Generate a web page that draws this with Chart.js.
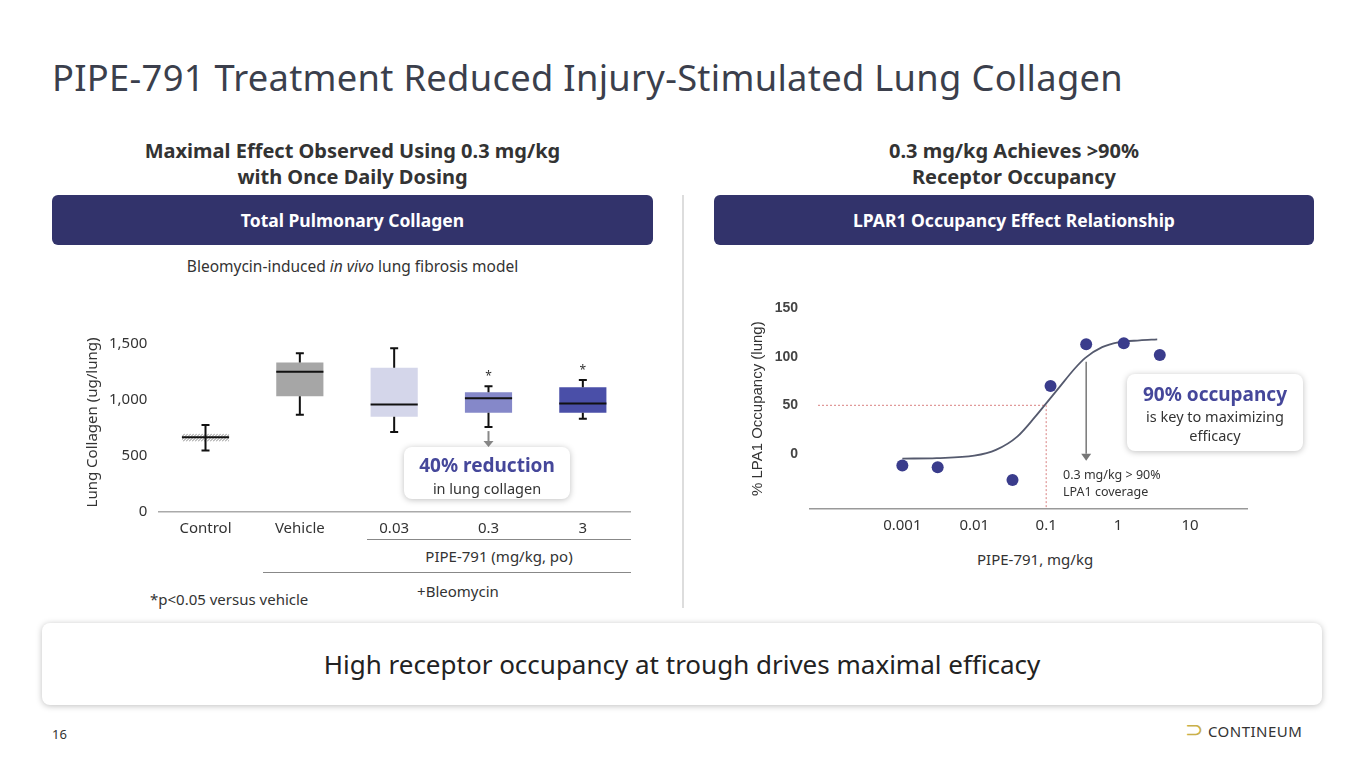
<!DOCTYPE html>
<html><head><meta charset="utf-8">
<script src="https://cdn.jsdelivr.net/npm/chart.js@4/dist/chart.umd.min.js"></script>
<style>
body{margin:0;width:1365px;height:768px;background:#fff;font-family:"Noto Sans",sans-serif;color:#333;position:relative;overflow:hidden}
.abs{position:absolute}
h1{position:absolute;left:52px;top:52px;margin:0;font-weight:400;font-size:36.3px;color:#3b3f4c;letter-spacing:0.3px}
.sub{font-weight:700;font-size:20px;text-align:center;color:#333;line-height:26px}
.bar{background:#32336b;color:#fff;font-weight:700;font-size:17.5px;border-radius:6px;text-align:center;line-height:50px;height:50px}
.call{background:#fff;border-radius:8px;box-shadow:0 1px 6px rgba(0,0,0,.25);text-align:center}
</style></head><body>
<h1>PIPE-791 Treatment Reduced Injury-Stimulated Lung Collagen</h1>
<div class="abs sub" style="left:52px;width:601px;top:138px">Maximal Effect Observed Using 0.3 mg/kg<br>with Once Daily Dosing</div>
<div class="abs sub" style="left:714px;width:600px;top:138px">0.3 mg/kg Achieves &gt;90%<br>Receptor Occupancy</div>
<div class="abs bar" style="left:52px;width:601px;top:195px">Total Pulmonary Collagen</div>
<div class="abs bar" style="left:714px;width:600px;top:195px">LPAR1 Occupancy Effect Relationship</div>
<div class="abs" style="left:682px;top:195px;width:2px;height:413px;background:#ddd"></div>
<div class="abs" style="left:52px;width:601px;top:255px;text-align:center;font-size:15.5px">Bleomycin-induced <i>in vivo</i> lung fibrosis model</div>

<div class="abs" style="left:80px;top:321px;width:560px;height:217px"><canvas id="c1"></canvas></div>
<div class="abs" style="left:745px;top:296px;width:512px;height:239px"><canvas id="c2"></canvas></div>

<div class="abs" style="left:367px;top:539px;width:264px;height:1px;background:#888"></div>
<div class="abs" style="left:367px;top:546px;width:264px;text-align:center;font-size:15px">PIPE-791 (mg/kg, po)</div>
<div class="abs" style="left:263px;top:572px;width:368px;height:1px;background:#888"></div>
<div class="abs" style="left:263px;top:581px;width:390px;text-align:center;font-size:15px">+Bleomycin</div>
<div class="abs" style="left:150px;top:589px;font-size:15px">*p&lt;0.05 versus vehicle</div>

<div class="abs call" style="left:404px;top:447px;width:166px;height:52px">
<div style="color:#45479a;font-weight:700;font-size:19px;margin-top:5px">40% reduction</div>
<div style="font-size:14.5px">in lung collagen</div></div>
<div class="abs call" style="left:1127px;top:374px;width:176px;height:77px">
<div style="color:#45479a;font-weight:700;font-size:19px;margin-top:7px">90% occupancy</div>
<div style="font-size:14.5px;line-height:19px">is key to maximizing<br>efficacy</div></div>
<div class="abs" style="left:1063px;top:466px;font-size:12.5px;line-height:17px">0.3 mg/kg &gt; 90%<br>LPA1 coverage</div>
<div class="abs" style="left:977px;top:549px;font-size:15px">PIPE-791, mg/kg</div>

<div class="abs call" style="left:42px;top:623px;width:1280px;height:82px;line-height:82px;font-size:26px;color:#222">High receptor occupancy at trough drives maximal efficacy</div>
<div class="abs" style="left:52px;top:725px;font-size:13px">16</div>
<div class="abs" style="left:1185px;top:713px;font-size:15px;color:#333;letter-spacing:0.5px"><span style="color:#c9b04a;font-size:22px">&#x2283;</span> CONTINEUM</div>

<script>
// ---- left chart data ----
const groups = ['Control', 'Vehicle', '0.03', '0.3', '3']
const boxLow = [630, 1034, 851, 887, 887]
const boxHigh = [700, 1336, 1290, 1070, 1116]
const medians = [668, 1253, 961, 1016, 970]
const whiskLow = [549, 869, 714, 759, 833]
const whiskHigh = [778, 1418, 1464, 1125, 1180]
const boxColors = ['#bdbdbd', '#a6a6a6', '#d4d6ea', '#8588c9', '#4a4fa8']
const starred = [false, false, false, true, true]
const collagenTicks = [0, 500, 1000, 1500]

// ---- right chart data ----
const doseX = [0.001, 0.0031, 0.034, 0.115, 0.36, 1.2, 3.8]
const occupancyY = [-12, -14, -27, 70, 113, 114, 102]
const fitX = [0.001, 0.003, 0.01, 0.02, 0.04, 0.07, 0.1, 0.15, 0.25, 0.35, 0.6, 1, 2, 3.5]
const fitY = [-5, -4.5, -2, 4, 18, 38, 52, 68, 88, 99, 110, 115, 117, 118]
const doseTicks = [0.001, 0.01, 0.1, 1, 10]
const occTicks = [0, 50, 100, 150]

const boxPlugin = {
  id: 'boxes',
  afterDatasetsDraw(chart) {
    const ctx = chart.ctx, y = chart.scales.y
    const meta = chart.getDatasetMeta(0)
    ctx.save()
    groups.forEach((g, i) => {
      const bar = meta.data[i]
      const cx = bar.x, hw = bar.width / 2
      if (i === 0) { // hatched box
        const t = y.getPixelForValue(boxHigh[i]), b = y.getPixelForValue(boxLow[i])
        ctx.save(); ctx.beginPath(); ctx.rect(cx - hw, t, hw * 2, b - t); ctx.clip()
        ctx.strokeStyle = '#888'; ctx.lineWidth = 1
        for (let k = -20; k < hw * 2 + 20; k += 3) { ctx.beginPath(); ctx.moveTo(cx - hw + k, b); ctx.lineTo(cx - hw + k + 8, t); ctx.stroke() }
        ctx.restore()
      }
      ctx.strokeStyle = '#111'; ctx.lineWidth = 2
      const yl = y.getPixelForValue(whiskLow[i]), yh = y.getPixelForValue(whiskHigh[i])
      const yq1 = y.getPixelForValue(boxLow[i]), yq3 = y.getPixelForValue(boxHigh[i])
      ctx.beginPath()
      ctx.moveTo(cx, yh); ctx.lineTo(cx, i === 0 ? yl : yq3)
      if (i !== 0) { ctx.moveTo(cx, yq1); ctx.lineTo(cx, yl) }
      ctx.moveTo(cx - 4, yh); ctx.lineTo(cx + 4, yh)
      ctx.moveTo(cx - 4, yl); ctx.lineTo(cx + 4, yl)
      const ym = y.getPixelForValue(medians[i])
      ctx.moveTo(cx - hw, ym); ctx.lineTo(cx + hw, ym)
      ctx.stroke()
      if (starred[i]) {
        ctx.fillStyle = '#333'; ctx.font = '12px "Noto Sans"'; ctx.textAlign = 'center'
        ctx.fillText('*', cx, yh - 6)
      }
      if (i === 3) { // arrow to callout
        ctx.strokeStyle = '#888'; ctx.fillStyle = '#888'; ctx.lineWidth = 2
        ctx.beginPath(); ctx.moveTo(cx, yl + 4); ctx.lineTo(cx, yl + 14); ctx.stroke()
        ctx.beginPath(); ctx.moveTo(cx - 5, yl + 14); ctx.lineTo(cx + 5, yl + 14); ctx.lineTo(cx, yl + 20); ctx.fill()
      }
    })
    ctx.restore()
  }
}

new Chart(document.getElementById('c1'), {
  type: 'bar',
  data: {
    labels: groups,
    datasets: [{
      data: groups.map((g, i) => [boxLow[i], boxHigh[i]]),
      backgroundColor: boxColors.map((c, i) => i === 0 ? 'rgba(0,0,0,0)' : c),
      barPercentage: 0.5, categoryPercentage: 1
    }]
  },
  options: {
    responsive: true, maintainAspectRatio: false, animation: false,
    layout: { padding: { left: 0, right: 10, top: 10 } },
    plugins: { legend: { display: false }, tooltip: { enabled: false } },
    scales: {
      x: { grid: { display: false }, border: { color: '#aaa', width: 1.5 },
           ticks: { color: '#333', font: { size: 15, family: 'Noto Sans' }, padding: 0 } },
      y: { min: 0, max: 1600, afterBuildTicks: s => { s.ticks = collagenTicks.map(v => ({ value: v })) },
           grid: { display: false }, border: { display: false },
           title: { display: true, text: 'Lung Collagen (ug/lung)', color: '#333', font: { size: 15, family: 'Noto Sans' } },
           ticks: { color: '#333', font: { size: 15, family: 'Noto Sans' }, callback: v => v.toLocaleString('en-US') } }
    }
  },
  plugins: [boxPlugin]
})

const refPlugin = {
  id: 'refs',
  beforeDatasetsDraw(chart) {
    const ctx = chart.ctx, x = chart.scales.x, y = chart.scales.y
    const px = x.getPixelForValue(0.1), py = y.getPixelForValue(50)
    ctx.save(); ctx.strokeStyle = '#d98080'; ctx.lineWidth = 1; ctx.setLineDash([2, 2])
    ctx.beginPath(); ctx.moveTo(chart.chartArea.left + 8, py); ctx.lineTo(px, py); ctx.lineTo(px, chart.chartArea.bottom); ctx.stroke()
    ctx.setLineDash([])
    const ax = x.getPixelForValue(0.36), a1 = y.getPixelForValue(95), a2 = y.getPixelForValue(0)
    ctx.strokeStyle = '#777'; ctx.fillStyle = '#777'; ctx.lineWidth = 1.5
    ctx.beginPath(); ctx.moveTo(ax, a1); ctx.lineTo(ax, a2); ctx.stroke()
    ctx.beginPath(); ctx.moveTo(ax - 5, a2); ctx.lineTo(ax + 5, a2); ctx.lineTo(ax, a2 + 7); ctx.fill()
    ctx.restore()
  }
}

new Chart(document.getElementById('c2'), {
  type: 'scatter',
  data: {
    datasets: [
      { data: doseX.map((v, i) => ({ x: v, y: occupancyY[i] })), backgroundColor: '#3a3c8c', pointRadius: 6, pointBorderWidth: 0 },
      { type: 'line', data: fitX.map((v, i) => ({ x: v, y: fitY[i] })), borderColor: '#555a6e', borderWidth: 1.8, pointRadius: 0, cubicInterpolationMode: 'monotone', fill: false }
    ]
  },
  options: {
    responsive: true, maintainAspectRatio: false, animation: false,
    layout: { padding: { top: 10, right: 10 } },
    plugins: { legend: { display: false }, tooltip: { enabled: false } },
    scales: {
      x: { type: 'logarithmic', min: 0.000052, max: 62,
           afterBuildTicks: s => { s.ticks = doseTicks.map(v => ({ value: v })) },
           grid: { display: false }, border: { color: '#999', width: 1.5 },
           ticks: { color: '#333', font: { size: 15, family: 'Noto Sans' }, padding: 0, callback: v => String(v) } },
      y: { min: -57, max: 150, afterBuildTicks: s => { s.ticks = occTicks.map(v => ({ value: v })) },
           afterFit: s => { s.width = 65 },
           grid: { display: false }, border: { display: false },
           title: { display: true, text: '% LPA1 Occupancy (lung)', color: '#333', font: { size: 15, family: 'Liberation Sans' } },
           ticks: { color: '#444', font: { size: 14, family: 'Liberation Sans', weight: 'bold' }, padding: 4 } }
    }
  },
  plugins: [refPlugin]
})
</script>
</body></html>
